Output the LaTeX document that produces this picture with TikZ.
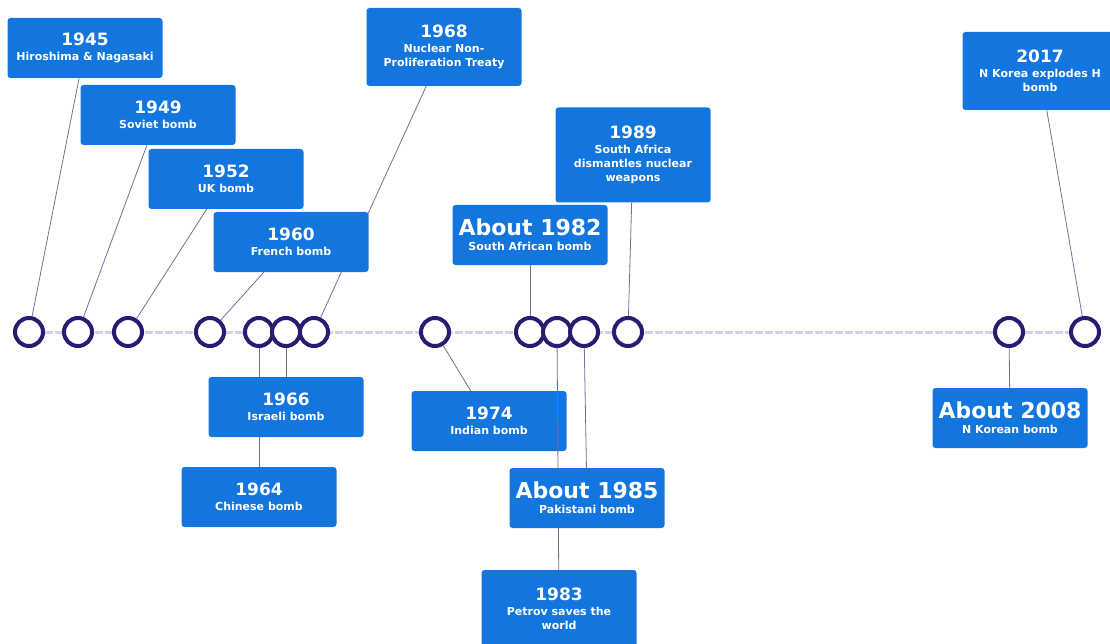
\documentclass[tikz,border=0pt]{standalone}
\usepackage{fontspec}
\setmainfont{DejaVu Sans}
\definecolor{eventblue}{RGB}{18,118,222}
\definecolor{dotnavy}{RGB}{38,28,112}
\definecolor{linkgray}{RGB}{125,105,155}
\definecolor{tracklilac}{RGB}{208,208,240}
\usetikzlibrary{positioning,backgrounds}

\tikzset{
  eventbox/.style={rounded corners=3pt, fill=eventblue, text=white, align=center,
    font=\bfseries\fontsize{11}{14}\selectfont, minimum width=155pt, minimum height=60pt, inner sep=3pt},
  tallbox/.style={eventbox, minimum height=78pt},
  eventdot/.style={circle, draw=dotnavy, line width=4pt, fill=white, minimum size=28pt, inner sep=0pt},
  linkline/.style={draw=linkgray, line width=0.8pt}
}
\newcommand{\yeartext}[1]{{\fontsize{17}{20}\selectfont #1}\\[1pt]}
\newcommand{\abouttext}[1]{{\fontsize{22}{24}\selectfont About #1}\\[1pt]}

\begin{document}
\begin{tikzpicture}[x=1pt,y=-1pt]
  \useasboundingbox (0,0) rectangle (1110,644);

  % dots on the timeline
  \node[eventdot] (c1945) at (29,332) {};
  \node[eventdot] (c1949) at (78,332) {};
  \node[eventdot] (c1952) at (128,332) {};
  \node[eventdot] (c1960) at (210,332) {};
  \node[eventdot] (c1964) at (259,332) {};
  \node[eventdot] (c1966) at (286,332) {};
  \node[eventdot] (c1968) at (314,332) {};
  \node[eventdot] (c1974) at (435,332) {};
  \node[eventdot] (c1982) at (530,332) {};
  \node[eventdot] (c1983) at (557,332) {};
  \node[eventdot] (c1985) at (584,332) {};
  \node[eventdot] (c1989) at (628,332) {};
  \node[eventdot] (c2008) at (1009,332) {};
  \node[eventdot] (c2017) at (1085,332) {};

  % labels above
  \node[eventbox] (b1945) at (85,48) {\yeartext{1945}Hiroshima \& Nagasaki};
  \node[eventbox] (b1949) at (158,115) {\yeartext{1949}Soviet bomb};
  \node[eventbox] (b1952) at (226,179) {\yeartext{1952}UK bomb};
  \node[eventbox] (b1960) at (291,242) {\yeartext{1960}French bomb};
  \node[tallbox] (b1968) at (444,47) {\yeartext{1968}Nuclear Non-\\Proliferation Treaty};
  \node[eventbox, minimum height=95pt] (b1989) at (633,155) {\yeartext{1989}South Africa\\dismantles nuclear\\weapons};
  \node[eventbox] (b1982) at (530,235) {\abouttext{1982}South African bomb};
  \node[tallbox] (b2017) at (1040,71) {\yeartext{2017}N Korea explodes H\\bomb};

  % labels below
  \node[eventbox] (b1966) at (286,407) {\yeartext{1966}Israeli bomb};
  \node[eventbox] (b1964) at (259,497) {\yeartext{1964}Chinese bomb};
  \node[eventbox] (b1985) at (587,498) {\abouttext{1985}Pakistani bomb};
  \node[tallbox] (b1983) at (559,609) {\yeartext{1983}Petrov saves the\\world};
  \node[eventbox] (b2008) at (1010,418) {\abouttext{2008}N Korean bomb};

  \begin{scope}[on background layer]
    \node[eventbox] (b1974) at (489,421) {\yeartext{1974}Indian bomb};
    \draw[tracklilac, line width=3pt, dash pattern=on 8pt off 2pt] (c1945) -- (c2017);
    \foreach \yr in {1945,1949,1952,1960,1964,1966,1968,1974,1982,1983,1985,1989,2008,2017}
      \draw[linkline] (c\yr) -- (b\yr);
  \end{scope}
\end{tikzpicture}
\end{document}
